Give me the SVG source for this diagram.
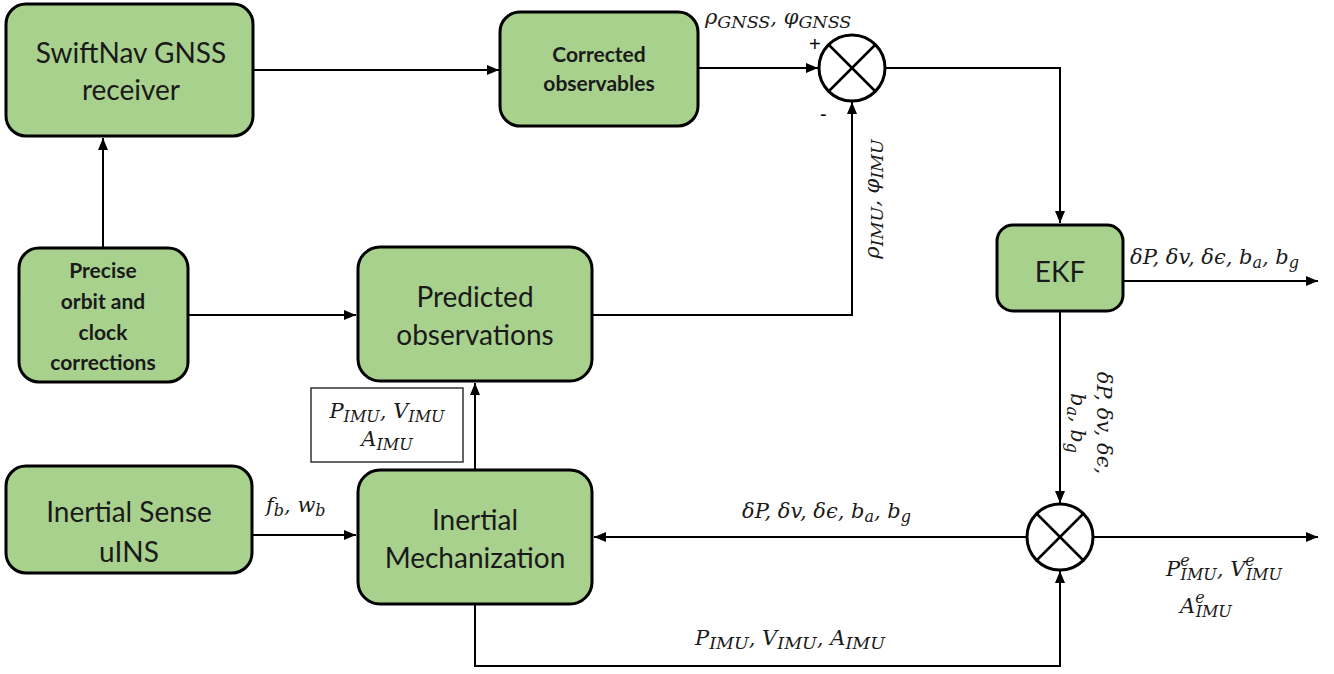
<svg xmlns="http://www.w3.org/2000/svg" width="1334" height="674" viewBox="0 0 1334 674">
<defs>
<style>
.box{fill:#A9D18E;stroke:#000;stroke-width:3}
.t{font-family:Lato,"Liberation Sans",sans-serif;font-size:28px;fill:#1a1a1a;text-anchor:middle}
.tb{font-family:Lato,"Liberation Sans",sans-serif;font-weight:bold;font-size:21px;fill:#1a1a1a;text-anchor:middle}
.m{font-family:"DejaVu Serif","Liberation Serif",serif;font-style:italic;font-size:21px;fill:#1a1a1a}
.sb{font-size:16px}
.sc{font-size:17.5px}
.ln{fill:none;stroke:#000;stroke-width:2}
.sum{fill:#fff;stroke:#000;stroke-width:3}
.sx{stroke:#000;stroke-width:2.5}
.pm{font-family:"Liberation Sans",sans-serif;font-size:20px;fill:#000}
</style>
<marker id="ah" markerWidth="12" markerHeight="10" refX="12" refY="5" orient="auto" markerUnits="userSpaceOnUse">
<path d="M0,0 L12,5 L0,10 Z" fill="#000"/>
</marker>
</defs>
<rect width="1334" height="674" fill="#fff"/>

<g id="connectors">
<path class="ln" d="M253,70 H499" marker-end="url(#ah)"/>
<path class="ln" d="M698,68 H818" marker-end="url(#ah)"/>
<path class="ln" d="M885,68 H1060 V223" marker-end="url(#ah)"/>
<path class="ln" d="M592,315 H852 V102" marker-end="url(#ah)"/>
<path class="ln" d="M103,248 V138" marker-end="url(#ah)"/>
<path class="ln" d="M188,315 H356" marker-end="url(#ah)"/>
<path class="ln" d="M1123,281 H1318" marker-end="url(#ah)"/>
<path class="ln" d="M1060,311 V503" marker-end="url(#ah)"/>
<path class="ln" d="M1093,537 H1318" marker-end="url(#ah)"/>
<path class="ln" d="M1027,537 H594" marker-end="url(#ah)"/>
<path class="ln" d="M475,604 V666 H1060 V571" marker-end="url(#ah)"/>
<path class="ln" d="M475,470 V383" marker-end="url(#ah)"/>
<path class="ln" d="M252,535 H356" marker-end="url(#ah)"/>
</g>

<g id="swiftnav">
<rect class="box" x="6" y="4" width="247" height="132" rx="20"/>
<text class="t" x="131" y="63">SwiftNav GNSS</text>
<text class="t" x="131" y="100">receiver</text>
</g>

<g id="corrected">
<rect class="box" x="500" y="12" width="198" height="114" rx="20"/>
<text class="tb" x="599" y="62">Corrected</text>
<text class="tb" x="599" y="91">observables</text>
</g>

<g id="sum1">
<circle class="sum" cx="852" cy="68" r="33"/>
<line class="sx" x1="829" y1="45" x2="875" y2="91"/>
<line class="sx" x1="875" y1="45" x2="829" y2="91"/>
<text class="pm" x="809" y="51">+</text>
<text class="pm" x="820" y="121">-</text>
</g>

<g id="precise">
<rect class="box" x="19" y="248" width="169" height="134" rx="20"/>
<text class="tb" x="103" y="278">Precise</text>
<text class="tb" x="103" y="309">orbit and</text>
<text class="tb" x="103" y="340">clock</text>
<text class="tb" x="103" y="370">corrections</text>
</g>

<g id="predicted">
<rect class="box" x="358" y="247" width="234" height="134" rx="22"/>
<text class="t" x="475" y="307">Predicted</text>
<text class="t" x="475" y="345">observations</text>
</g>

<g id="ekf">
<rect class="box" x="997" y="225" width="126" height="86" rx="16"/>
<text class="t" x="1060" y="282">EKF</text>
</g>

<g id="sum2">
<circle class="sum" cx="1060" cy="537" r="33"/>
<line class="sx" x1="1037" y1="514" x2="1083" y2="560"/>
<line class="sx" x1="1083" y1="514" x2="1037" y2="560"/>
</g>

<g id="imubox">
<rect x="311" y="388" width="152" height="74" fill="#fff" stroke="#333" stroke-width="1.5"/>
<text class="m" x="387" y="418" text-anchor="middle">P<tspan class="sb" dy="4">IMU</tspan><tspan dy="-4">, V</tspan><tspan class="sb" dy="4">IMU</tspan></text>
<text class="m" x="387" y="446" text-anchor="middle">A<tspan class="sb" dy="4">IMU</tspan></text>
</g>

<g id="uins">
<rect class="box" x="6" y="466" width="246" height="107" rx="20"/>
<text class="t" x="129" y="522">Inertial Sense</text>
<text class="t" x="129" y="562">uINS</text>
</g>

<g id="mech">
<rect class="box" x="358" y="470" width="234" height="134" rx="22"/>
<text class="t" x="475" y="530">Inertial</text>
<text class="t" x="475" y="568">Mechanization</text>
</g>

<g id="labels">
<text class="m" x="705" y="24">ρ<tspan class="sc" dy="4">GNSS</tspan><tspan dy="-4">, φ</tspan><tspan class="sc" dy="4">GNSS</tspan></text>
<text class="m" transform="translate(879,199) rotate(-90)" text-anchor="middle">ρ<tspan class="sc" dy="4">IMU</tspan><tspan dy="-4">, φ</tspan><tspan class="sc" dy="4">IMU</tspan></text>
<text class="m" x="1130" y="264">δP, δv, δϵ, b<tspan class="sb" dy="4">a</tspan><tspan dy="-4">, b</tspan><tspan class="sb" dy="4">g</tspan></text>
<text class="m" transform="translate(1097,423) rotate(90)" text-anchor="middle">δP, δv, δϵ,</text>
<text class="m" transform="translate(1071,423) rotate(90)" text-anchor="middle">b<tspan class="sb" dy="4">a</tspan><tspan dy="-4">, b</tspan><tspan class="sb" dy="4">g</tspan></text>
<text class="m" x="742" y="518">δP, δv, δϵ, b<tspan class="sb" dy="4">a</tspan><tspan dy="-4">, b</tspan><tspan class="sb" dy="4">g</tspan></text>
<text class="m" x="266" y="512">f<tspan class="sb" dy="4">b</tspan><tspan dy="-4">, w</tspan><tspan class="sb" dy="4">b</tspan></text>
<text class="m" x="695" y="645">P<tspan class="sc" dy="4">IMU</tspan><tspan dy="-4">, V</tspan><tspan class="sc" dy="4">IMU</tspan><tspan dy="-4">, A</tspan><tspan class="sc" dy="4">IMU</tspan></text>
<text class="m" x="1166" y="576">P<tspan class="sb" dy="-10">e</tspan><tspan class="sb" dx="-9" dy="14">IMU</tspan><tspan dy="-4">, V</tspan><tspan class="sb" dy="-10">e</tspan><tspan class="sb" dx="-9" dy="14">IMU</tspan></text>
<text class="m" x="1180" y="613">A<tspan class="sb" dy="-10">e</tspan><tspan class="sb" dx="-9" dy="14">IMU</tspan></text>
</g>
</svg>
